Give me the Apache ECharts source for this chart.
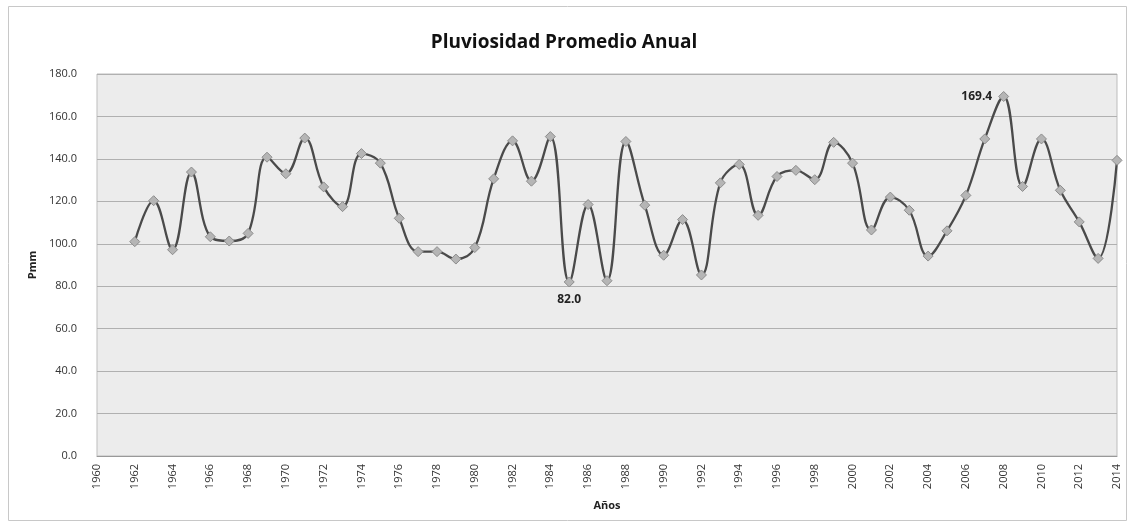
<!DOCTYPE html>
<html>
<head>
<meta charset="utf-8">
<script src="https://cdn.jsdelivr.net/npm/echarts@6/dist/echarts.min.js"></script>
<style>html,body{margin:0;padding:0;background:#fff;}#c{width:1128px;height:523px;}</style>
</head>
<body>
<div id="c"></div>
<script>
const years = [1962,1963,1964,1965,1966,1967,1968,1969,1970,1971,1972,1973,1974,1975,1976,1977,1978,1979,1980,1981,1982,1983,1984,1985,1986,1987,1988,1989,1990,1991,1992,1993,1994,1995,1996,1997,1998,1999,2000,2001,2002,2003,2004,2005,2006,2007,2008,2009,2010,2011,2012,2013,2014];
const pmm = [101.0,120.3,97.2,133.8,103.3,101.3,104.9,140.8,133.0,149.8,126.8,117.5,142.5,138.0,112.0,96.3,96.3,92.8,98.2,130.6,148.5,129.5,150.5,82.0,118.5,82.6,148.2,118.2,94.6,111.4,85.3,128.7,137.4,113.4,131.7,134.6,130.2,147.8,138.0,106.5,122.0,115.8,94.2,106.1,122.8,149.4,169.4,127.0,149.4,125.2,110.3,93.1,139.3];
const labelled = {1985: 'bottom', 2008: 'left'};

const seriesData = years.map((y, i) => {
  const d = {value: [y, pmm[i]]};
  if (labelled[y]) {
    d.label = {show: true, position: labelled[y], formatter: p => p.value[1].toFixed(1),
      color: '#222', fontSize: 12, fontWeight: 'bold', fontFamily: 'Open Sans', distance: 6};
  }
  return d;
});

const chart = echarts.init(document.getElementById('c'));
chart.setOption({
  animation: false,
  backgroundColor: '#ffffff',
  title: {
    text: 'Pluviosidad Promedio Anual', left: 'center', top: 28,
    textStyle: {fontFamily: 'Open Sans', fontWeight: 'bold', fontSize: 19, color: '#111'}
  },
  graphic: [{
    type: 'rect', left: 6, top: 4, shape: {width: 1118, height: 514},
    style: {fill: 'none', stroke: '#c8c8c8', lineWidth: 1}, silent: true, z: -1
  }],
  grid: {left: 97, right: 11, top: 74, bottom: 67, show: true, backgroundColor: '#ececec', borderColor: '#bdbdbd', borderWidth: 1},
  xAxis: {
    type: 'value', min: 1960, max: 2014, interval: 2,
    name: 'Años', nameLocation: 'middle', nameGap: 44,
    nameTextStyle: {fontFamily: 'Open Sans', fontWeight: 'bold', fontSize: 11, color: '#222'},
    axisLine: {show: true, lineStyle: {color: '#999'}},
    axisTick: {show: false},
    splitLine: {show: false},
    axisLabel: {rotate: 90, fontFamily: 'Open Sans', fontSize: 11, color: '#333', margin: 8, formatter: v => String(v)}
  },
  yAxis: {
    type: 'value', min: 0, max: 180, interval: 20,
    name: 'Pmm', nameLocation: 'middle', nameGap: 56, nameRotate: 90,
    nameTextStyle: {fontFamily: 'Open Sans', fontWeight: 'bold', fontSize: 11, color: '#222'},
    axisLine: {show: false}, axisTick: {show: false},
    splitLine: {lineStyle: {color: '#b0b0b0', width: 1}},
    axisLabel: {fontFamily: 'Open Sans', fontSize: 11, color: '#333', margin: 20, formatter: v => v.toFixed(1)}
  },
  series: [{
    type: 'line', data: seriesData, smooth: 0.4,
    symbol: 'diamond', symbolSize: 10,
    lineStyle: {color: '#4a4a4a', width: 2.3},
    itemStyle: {color: '#b5b5b5', borderColor: '#8c8c8c', borderWidth: 1}
  }]
});
</script>
</body>
</html>
